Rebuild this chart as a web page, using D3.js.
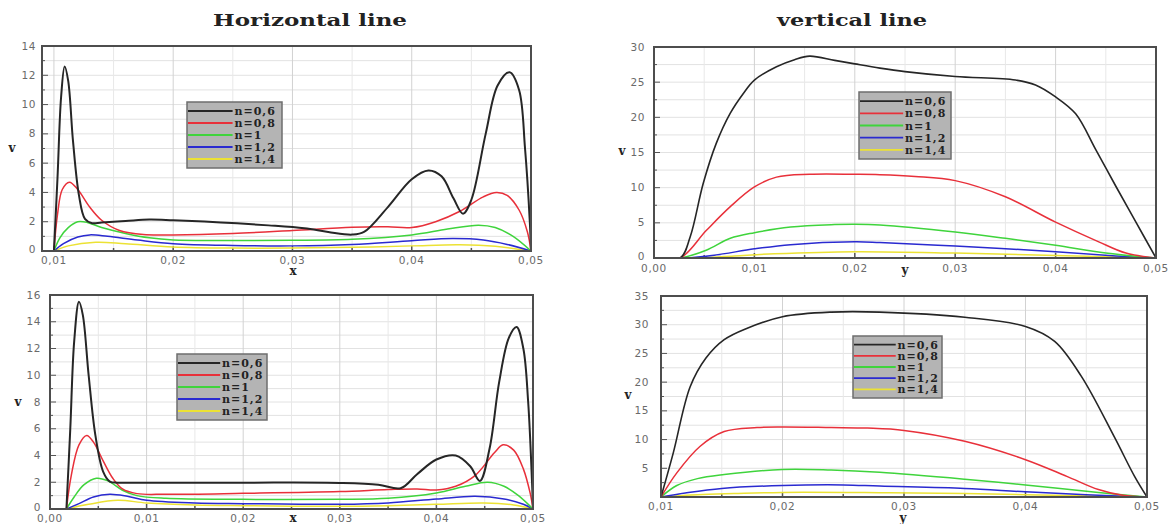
<!DOCTYPE html>
<html>
<head>
<meta charset="utf-8">
<title>Horizontal / vertical line</title>
<style>
  body { margin: 0; background: #fff; }
  svg { display: block; }
  .tick-label { font-family: "DejaVu Sans", sans-serif; font-size: 10.5px; letter-spacing: 0.6px; fill: #6a6a6a; }
  .title { font-family: "DejaVu Serif", serif; font-weight: bold; font-size: 17px; fill: #222; }
  .axis-title { font-family: "DejaVu Serif", serif; font-weight: bold; font-size: 12px; fill: #222; }
  .legend-text { font-family: "DejaVu Serif", serif; font-weight: bold; font-size: 11px; letter-spacing: 1px; fill: #222; }
</style>
</head>
<body>
<svg id="chart"></svg>
<script src="https://cdnjs.cloudflare.com/ajax/libs/d3/7.8.5/d3.min.js"></script>
<script>
// legend entries, one per power-law index n
var seriesNames = ["n=0,6", "n=0,8", "n=1", "n=1,2", "n=1,4"];

// horizontal line, upper case: [x, v]
var hTop06 = [[0.0100,0],[0.0103,5],[0.0106,10.5],[0.0109,12.6],[0.0112,11.6],[0.0116,7.5],[0.0121,3.8],[0.0126,2.2],[0.0132,1.9],[0.014,1.95],[0.016,2.05],[0.018,2.15],[0.020,2.1],[0.024,1.95],[0.028,1.75],[0.031,1.55],[0.033,1.3],[0.035,1.12],[0.036,1.3],[0.038,3.0],[0.040,4.9],[0.0414,5.5],[0.0425,5.1],[0.0435,3.6],[0.0443,2.55],[0.0450,3.5],[0.0462,8.0],[0.0472,11.3],[0.0482,12.2],[0.0490,11.0],[0.0495,7.0],[0.0499,2.0],[0.0500,0]];
var hTop08 = [[0.0100,0],[0.0103,2.5],[0.0107,4.2],[0.0113,4.7],[0.0120,4.2],[0.0130,3.0],[0.0140,2.1],[0.0155,1.4],[0.0175,1.12],[0.020,1.1],[0.025,1.2],[0.030,1.4],[0.035,1.62],[0.038,1.65],[0.040,1.6],[0.042,2.0],[0.044,2.7],[0.046,3.7],[0.0471,4.0],[0.048,3.8],[0.049,2.8],[0.0497,1.3],[0.050,0]];
var hTop10 = [[0.0100,0],[0.0105,0.9],[0.0112,1.6],[0.0120,2.0],[0.0128,1.95],[0.014,1.6],[0.016,1.2],[0.018,0.9],[0.020,0.75],[0.025,0.72],[0.030,0.73],[0.035,0.8],[0.040,1.1],[0.043,1.5],[0.0456,1.76],[0.047,1.6],[0.0485,1.0],[0.050,0]];
var hTop12 = [[0.0100,0],[0.0108,0.5],[0.012,0.95],[0.013,1.1],[0.0145,1.0],[0.017,0.75],[0.020,0.5],[0.025,0.38],[0.030,0.35],[0.035,0.45],[0.040,0.7],[0.0434,0.85],[0.046,0.75],[0.048,0.45],[0.050,0]];
var hTop14 = [[0.0100,0],[0.0112,0.35],[0.0135,0.6],[0.016,0.5],[0.020,0.28],[0.025,0.2],[0.030,0.2],[0.035,0.25],[0.040,0.35],[0.044,0.42],[0.047,0.32],[0.050,0]];

// vertical line, upper case: [y, v]
var vTop06 = [[0,0],[0.0026,0],[0.0036,3.0],[0.0049,10.6],[0.0062,16.3],[0.0076,20.6],[0.0089,23.4],[0.010,25.3],[0.0122,27.2],[0.014,28.2],[0.0155,28.7],[0.018,28.1],[0.020,27.6],[0.0225,27.0],[0.025,26.5],[0.030,25.8],[0.036,25.3],[0.038,24.6],[0.040,22.9],[0.042,20.5],[0.044,15.4],[0.046,10.2],[0.048,5.1],[0.050,0]];
var vTop08 = [[0,0],[0.0026,0],[0.0052,3.9],[0.0076,7.3],[0.010,10.1],[0.0122,11.5],[0.0155,11.9],[0.020,11.9],[0.0225,11.85],[0.026,11.6],[0.030,11.0],[0.035,8.7],[0.040,5.1],[0.0443,2.3],[0.047,0.7],[0.050,0]];
var vTop10 = [[0,0],[0.0026,0],[0.0052,1.1],[0.0076,2.8],[0.010,3.6],[0.0136,4.4],[0.018,4.75],[0.020,4.8],[0.0225,4.7],[0.030,3.7],[0.035,2.8],[0.040,1.8],[0.045,0.7],[0.050,0]];
var vTop12 = [[0,0],[0.003,0],[0.006,0.4],[0.010,1.3],[0.0136,1.9],[0.020,2.3],[0.0225,2.2],[0.030,1.7],[0.040,0.9],[0.046,0.3],[0.050,0]];
var vTop14 = [[0,0],[0.004,0],[0.008,0.3],[0.012,0.6],[0.020,0.9],[0.030,0.7],[0.040,0.35],[0.050,0]];

// horizontal line, lower case: [x, v]
var hBot06 = [[0.0017,0],[0.0021,6],[0.0025,12.5],[0.0030,15.5],[0.0034,14.5],[0.0040,10],[0.0047,5.5],[0.0055,2.8],[0.0062,2.05],[0.007,1.97],[0.010,1.97],[0.020,1.97],[0.030,1.95],[0.034,1.82],[0.0363,1.55],[0.038,2.6],[0.040,3.7],[0.042,4.0],[0.0435,3.2],[0.0445,2.1],[0.0455,4.5],[0.0465,9.5],[0.0475,12.8],[0.0483,13.6],[0.0490,12.0],[0.0495,8],[0.0499,2],[0.050,0]];
var hBot08 = [[0.0017,0],[0.0022,2.5],[0.0030,4.8],[0.0038,5.5],[0.0045,5.0],[0.0055,3.6],[0.0065,2.3],[0.0075,1.5],[0.009,1.15],[0.012,1.1],[0.020,1.17],[0.030,1.3],[0.035,1.45],[0.038,1.5],[0.040,1.42],[0.042,1.7],[0.044,2.5],[0.046,4.2],[0.0469,4.8],[0.048,4.4],[0.049,3.0],[0.0497,1.2],[0.050,0]];
var hBot10 = [[0.0017,0],[0.0025,0.9],[0.0035,1.8],[0.0048,2.3],[0.006,2.1],[0.0075,1.4],[0.009,1.0],[0.012,0.8],[0.020,0.72],[0.030,0.72],[0.035,0.8],[0.040,1.2],[0.043,1.7],[0.0453,2.0],[0.047,1.7],[0.0485,1.0],[0.050,0]];
var hBot12 = [[0.0017,0],[0.003,0.4],[0.0045,0.9],[0.0062,1.1],[0.008,0.95],[0.010,0.65],[0.015,0.45],[0.020,0.4],[0.030,0.35],[0.035,0.45],[0.040,0.75],[0.044,0.95],[0.047,0.75],[0.049,0.35],[0.050,0]];
var hBot14 = [[0.0017,0],[0.004,0.35],[0.007,0.65],[0.010,0.45],[0.015,0.3],[0.020,0.25],[0.030,0.2],[0.035,0.25],[0.040,0.35],[0.045,0.45],[0.048,0.3],[0.050,0]];

// vertical line, lower case: [y, v]
var vBot06 = [[0.0100,0],[0.0110,7.6],[0.0124,19.2],[0.0137,24.2],[0.0152,27.4],[0.0171,29.4],[0.020,31.4],[0.024,32.2],[0.028,32.2],[0.035,31.3],[0.040,29.7],[0.0424,27.1],[0.0446,21],[0.0473,10.5],[0.049,3.5],[0.050,0]];
var vBot08 = [[0.0100,0],[0.0113,4.2],[0.0132,8.8],[0.0152,11.4],[0.0179,12.1],[0.020,12.2],[0.024,12.1],[0.027,12.0],[0.030,11.6],[0.035,9.7],[0.040,6.5],[0.0434,3.6],[0.046,1.3],[0.048,0.3],[0.050,0]];
var vBot10 = [[0.0100,0],[0.0113,2.0],[0.0130,3.2],[0.0152,3.9],[0.020,4.8],[0.024,4.7],[0.028,4.3],[0.035,3.1],[0.040,2.1],[0.046,0.8],[0.050,0]];
var vBot12 = [[0.0100,0],[0.012,0.7],[0.015,1.5],[0.020,2.0],[0.025,2.1],[0.028,1.9],[0.035,1.5],[0.040,0.9],[0.045,0.4],[0.050,0]];
var vBot14 = [[0.0100,0],[0.013,0.4],[0.016,0.6],[0.020,0.8],[0.028,0.75],[0.035,0.6],[0.040,0.4],[0.050,0]];

// axis ticks
var xTicksH = [0.01, 0.02, 0.03, 0.04, 0.05];
var xTicksV = [0.00, 0.01, 0.02, 0.03, 0.04, 0.05];
var xTicksHB = [0.00, 0.01, 0.02, 0.03, 0.04, 0.05];
var xTicksVB = [0.01, 0.02, 0.03, 0.04, 0.05];
var yTicksTL = [0, 2, 4, 6, 8, 10, 12, 14];
var yTicksTR = [0, 5, 10, 15, 20, 25, 30];
var yTicksBL = [0, 2, 4, 6, 8, 10, 12, 14, 16];
var yTicksBR = [5, 10, 15, 20, 25, 30, 35];

var colors = ["#262626", "#e8303a", "#3fd43c", "#2a2ad0", "#ece234"];

var width = 1169, height = 524;
var svg = d3.select("#chart").attr("width", width).attr("height", height);

var panels = [
  { id: "tl", left: 42, right: 531, top: 46, bottom: 251, xDomain: [0.009, 0.05], yDomain: [0, 14],
    xTicks: xTicksH, yTicks: yTicksTL, xMinor: 0.005, yMinor: 1, series: [hTop06, hTop08, hTop10, hTop12, hTop14],
    xName: "x", xNamePos: [293, 275], vPos: [12, 152], xLabelY: 264, yLabelGap: 6,
    legend: { x: 187, y: 102, w: 95, h: 66 }, stroke: 2 },
  { id: "tr", left: 654, right: 1156, top: 47, bottom: 258, xDomain: [0, 0.05], yDomain: [0, 30],
    xTicks: xTicksV, yTicks: yTicksTR, xMinor: 0.005, yMinor: 2.5, series: [vTop06, vTop08, vTop10, vTop12, vTop14],
    xName: "y", xNamePos: [905, 274], vPos: [622, 155], xLabelY: 272, yLabelGap: 9,
    legend: { x: 859, y: 92, w: 92, h: 67 }, stroke: 1.6 },
  { id: "bl", left: 50, right: 533, top: 295, bottom: 509, xDomain: [0, 0.05], yDomain: [0, 16],
    xTicks: xTicksHB, yTicks: yTicksBL, xMinor: 0.005, yMinor: 1, series: [hBot06, hBot08, hBot10, hBot12, hBot14],
    xName: "x", xNamePos: [293, 522], vPos: [18, 406], xLabelY: 522, yLabelGap: 9,
    legend: { x: 177, y: 354, w: 90, h: 66 }, stroke: 2 },
  { id: "br", left: 661, right: 1147, top: 296, bottom: 497, xDomain: [0.01, 0.05], yDomain: [0, 35],
    xTicks: xTicksVB, yTicks: yTicksBR, xMinor: 0.005, yMinor: 2.5, series: [vBot06, vBot08, vBot10, vBot12, vBot14],
    xName: "y", xNamePos: [903, 522], vPos: [628, 399], xLabelY: 510, yLabelGap: 12,
    legend: { x: 853, y: 336, w: 89, h: 62 }, stroke: 1.6 }
];

function fmt(v) {
  return d3.format(".2f")(v).replace(".", ",");
}

function isMajor(d) {
  return Math.abs(Math.round(d * 100) - d * 100) < 1e-6;
}

panels.forEach(function(p) {
  var x = d3.scaleLinear().domain(p.xDomain).range([p.left, p.right]);
  var y = d3.scaleLinear().domain(p.yDomain).range([p.bottom, p.top]);
  var g = svg.append("g");

  // grid: minor then major
  var xMinorTicks = d3.range(Math.ceil(p.xDomain[0] / p.xMinor - 1e-9) * p.xMinor, p.xDomain[1] + 1e-9, p.xMinor);
  var yMinorTicks = d3.range(p.yDomain[0], p.yDomain[1] + 1e-9, p.yMinor);

  g.selectAll(".hgrid").data(yMinorTicks).enter().append("line")
    .attr("x1", p.left).attr("x2", p.right)
    .attr("y1", function(d) { return y(d); }).attr("y2", function(d) { return y(d); })
    .attr("stroke", "#e2e2e2").attr("stroke-width", 1);
  g.selectAll(".vgrid").data(xMinorTicks).enter().append("line")
    .attr("y1", p.top).attr("y2", p.bottom)
    .attr("x1", function(d) { return x(d); }).attr("x2", function(d) { return x(d); })
    .attr("stroke", function(d) { return isMajor(d) ? "#d2d2d2" : "#e8e8e8"; })
    .attr("stroke-width", 1);

  // tick marks inside the frame
  g.selectAll(".ytk").data(yMinorTicks).enter().append("line")
    .attr("x1", p.left).attr("x2", function(d) {
      return p.left + (p.yTicks.indexOf(d) >= 0 ? 6 : 3);
    })
    .attr("y1", function(d) { return y(d); }).attr("y2", function(d) { return y(d); })
    .attr("stroke", "#555");
  g.selectAll(".xtk").data(xMinorTicks).enter().append("line")
    .attr("y1", p.bottom).attr("y2", function(d) { return p.bottom - (isMajor(d) ? 5 : 3); })
    .attr("x1", function(d) { return x(d); }).attr("x2", function(d) { return x(d); })
    .attr("stroke", "#555").attr("stroke-width", 1.5);

  // curves
  var clipId = "clip-" + p.id;
  svg.append("clipPath").attr("id", clipId).append("rect")
    .attr("x", p.left).attr("y", p.top - 2).attr("width", p.right - p.left).attr("height", p.bottom - p.top + 2);

  var line = d3.line()
    .x(function(d) { return x(d[0]); })
    .y(function(d) { return y(d[1]); })
    .curve(d3.curveCatmullRom.alpha(0.5));

  g.append("g").attr("clip-path", "url(#" + clipId + ")")
    .selectAll("path").data(p.series.slice().reverse()).enter().append("path")
    .attr("d", line)
    .attr("fill", "none")
    .attr("stroke", function(d, i) { return colors[4 - i]; })
    .attr("stroke-width", function(d, i) { return 4 - i === 0 ? p.stroke : 1.5; })
    .attr("stroke-linejoin", "round");

  // frame
  g.append("rect")
    .attr("x", p.left).attr("y", p.top)
    .attr("width", p.right - p.left).attr("height", p.bottom - p.top)
    .attr("fill", "none").attr("stroke", "#4d4d4d").attr("stroke-width", 2);

  // tick labels
  g.selectAll(".xl").data(p.xTicks).enter().append("text")
    .attr("class", "tick-label")
    .attr("x", function(d) { return x(d); })
    .attr("y", p.xLabelY)
    .attr("text-anchor", "middle")
    .text(fmt);
  g.selectAll(".yl").data(p.yTicks).enter().append("text")
    .attr("class", "tick-label")
    .attr("x", p.left - p.yLabelGap)
    .attr("y", function(d) { return y(d) + (d === 0 ? 1.5 : 3.5); })
    .attr("text-anchor", "end")
    .text(function(d) { return d; });

  // axis titles
  g.append("text").attr("class", "axis-title")
    .attr("x", p.xNamePos[0]).attr("y", p.xNamePos[1])
    .attr("text-anchor", "middle").text(p.xName);
  g.append("text").attr("class", "axis-title")
    .attr("x", p.vPos[0]).attr("y", p.vPos[1])
    .attr("text-anchor", "middle").text("v");

  // legend
  var L = p.legend;
  var lg = g.append("g");
  lg.append("rect")
    .attr("x", L.x).attr("y", L.y).attr("width", L.w).attr("height", L.h)
    .attr("fill", "#b4b4b4").attr("stroke", "#6e6e6e").attr("stroke-width", 1.5);
  var rowH = (L.h - 6) / 5;
  seriesNames.forEach(function(name, i) {
    var ry = L.y + 3 + rowH * (i + 0.5);
    lg.append("line")
      .attr("x1", L.x + 1).attr("x2", L.x + L.w * 0.48)
      .attr("y1", ry).attr("y2", ry)
      .attr("stroke", colors[i]).attr("stroke-width", 1.8);
    lg.append("text").attr("class", "legend-text")
      .attr("x", L.x + L.w * 0.5).attr("y", ry + 4)
      .text(name);
  });
});

// panel column titles (the source image is stretched sideways)
svg.append("text").attr("class", "title")
  .attr("x", 213).attr("y", 26)
  .attr("textLength", 194).attr("lengthAdjust", "spacingAndGlyphs")
  .text("Horizontal line");
svg.append("text").attr("class", "title")
  .attr("x", 777).attr("y", 26)
  .attr("textLength", 150).attr("lengthAdjust", "spacingAndGlyphs")
  .text("vertical line");
</script>
</body>
</html>
